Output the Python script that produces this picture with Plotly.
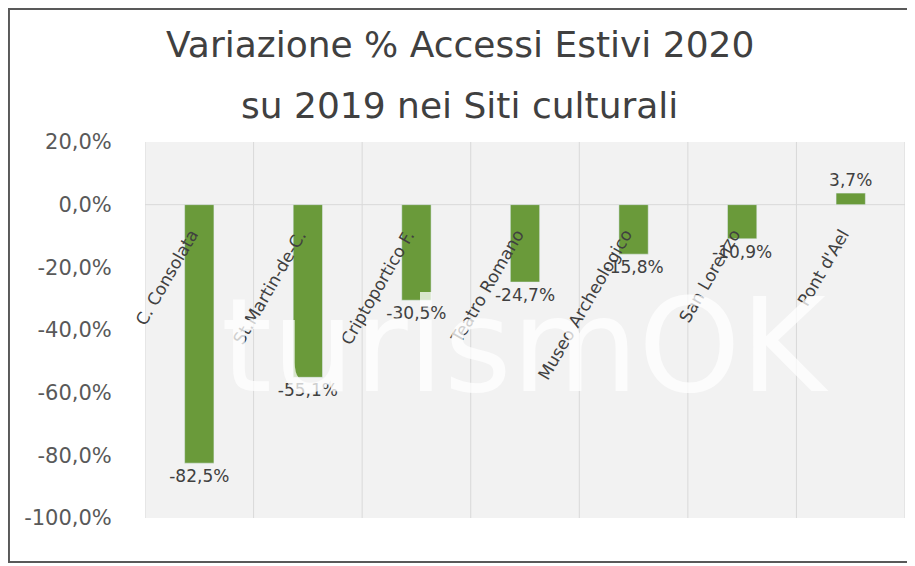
import plotly.graph_objects as go

categories = ["C. Consolata", "St.Martin-de-C.", "Criptoportico F.", "Teatro Romano",
              "Museo Archeologico", "San Lorenzo", "Pont d'Ael"]
values = [-82.5, -55.1, -30.5, -24.7, -15.8, -10.9, 3.7]
labels = ["-82,5%", "-55,1%", "-30,5%", "-24,7%", "-15,8%", "-10,9%", "3,7%"]
yticks = [20, 0, -20, -40, -60, -80, -100]
yticklabels = ["20,0%", "0,0%", "-20,0%", "-40,0%", "-60,0%", "-80,0%", "-100,0%"]
title_lines = ["Variazione % Accessi Estivi 2020", "su 2019 nei Siti culturali"]

font = "DejaVu Sans"
fig = go.Figure(go.Bar(x=categories, y=values, text=labels, textposition="outside",
                       textfont=dict(size=17, color="#404040", family=font),
                       constraintext="none",
                       marker_color="#6a9a3a", width=0.27, cliponaxis=False))

shapes = []
for i in range(len(categories) + 1):
    shapes.append(dict(type="line", xref="x", yref="y", x0=i - 0.5, x1=i - 0.5, y0=-100, y1=20,
                       line=dict(color="#d9d9d9", width=1), layer="below"))
shapes.append(dict(type="line", xref="x", yref="y", x0=-0.5, x1=6.5, y0=0, y1=0,
                   line=dict(color="#d9d9d9", width=1), layer="below"))
shapes.append(dict(type="rect", xref="paper", yref="paper", x0=-0.179, x1=1.0105, y0=-0.117, y1=1.354,
                   line=dict(color="#595959", width=2)))

annotations = [dict(x=c, y=-6, xref="x", yref="y", text=c, showarrow=False, textangle=-60,
                    xanchor="right", yanchor="top", xshift=5,
                    font=dict(size=17, color="#404040", family=font)) for c in categories]
annotations.append(dict(x=0.5, y=-45, xref="paper", yref="y", text="turismOK", showarrow=False,
                        font=dict(size=130, color="rgba(255,255,255,0.75)", family=font)))
for t, yy in zip(title_lines, [1.258, 1.098]):
    annotations.append(dict(x=0.414, y=yy, xref="paper", yref="paper", text=t, showarrow=False,
                            xanchor="center", yanchor="middle",
                            font=dict(size=36, color="#404040", family=font)))

fig.update_layout(
    width=915, height=566, paper_bgcolor="white", plot_bgcolor="#f2f2f2",
    margin=dict(l=137, r=18, t=134, b=56),
    xaxis=dict(showticklabels=False, showgrid=False, zeroline=False, range=[-0.5, 6.5]),
    yaxis=dict(range=[-100, 20], tickvals=yticks, ticktext=yticklabels, showgrid=False,
               zeroline=False, tickfont=dict(size=21, color="#595959", family=font),
               ticks="outside", ticklen=28, tickcolor="rgba(0,0,0,0)"),
    shapes=shapes, annotations=annotations, showlegend=False,
)
fig.write_html("out.html")
